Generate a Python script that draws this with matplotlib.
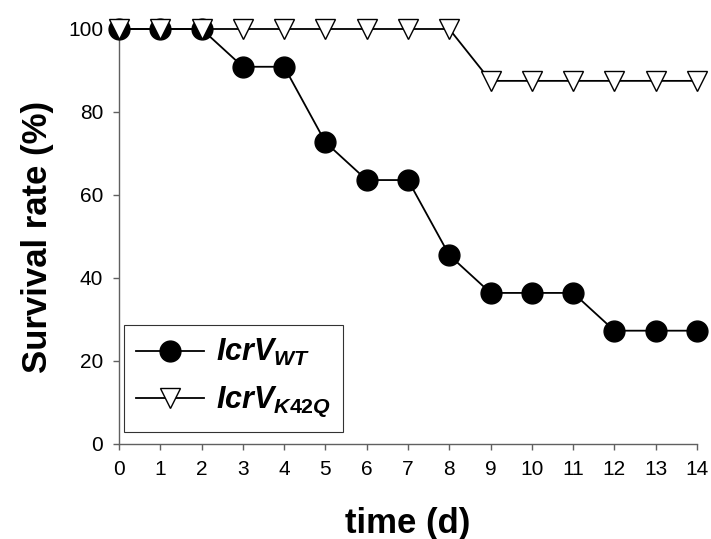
import matplotlib
matplotlib.use("Agg")
import matplotlib.pyplot as plt

plt.rcParams['font.family'] = ['Liberation Sans', 'DejaVu Sans']
plt.rcParams['mathtext.fontset'] = 'custom'
plt.rcParams['mathtext.it'] = 'Liberation Sans:italic:bold'
plt.rcParams['mathtext.rm'] = 'Liberation Sans:bold'

days = list(range(15))
wt = [100, 100, 100, 90.9, 90.9, 72.7, 63.6, 63.6, 45.5, 36.4, 36.4, 36.4, 27.3, 27.3, 27.3]
k42q = [100, 100, 100, 100, 100, 100, 100, 100, 100, 87.5, 87.5, 87.5, 87.5, 87.5, 87.5]
labels = [r'$IcrV_{WT}$', r'$IcrV_{K42Q}$']
xticks = list(range(15))
yticks = [0, 20, 40, 60, 80, 100]

fig = plt.figure(figsize=(7.11, 5.39), dpi=100)
ax = fig.add_axes([0.1674, 0.1763, 0.8129, 0.7699])

ax.plot(days, wt, color='black', lw=1.3, marker='o', ms=15, mfc='black', mec='black',
        label=labels[0], clip_on=False, zorder=3)
ax.plot(days, k42q, color='black', lw=1.3, marker='v', ms=15, mfc='white', mec='black',
        mew=1.0, label=labels[1], clip_on=False, zorder=4)

ax.set_xlim(0, 14)
ax.set_ylim(0, 100)
ax.set_xticks(xticks)
ax.set_yticks(yticks)
for s in ['top', 'right']:
    ax.spines[s].set_visible(False)
for s in ['left', 'bottom']:
    ax.spines[s].set_color('#606060')
    ax.spines[s].set_linewidth(1.0)
ax.tick_params(direction='out', length=4.5, width=1.0, color='#606060', labelsize=15, pad=7)

ax.set_xlabel('time (d)', fontsize=25, fontweight='bold', labelpad=20)
ax.set_ylabel('Survival rate (%)', fontsize=25, fontweight='bold', labelpad=10)

leg = ax.legend(loc='lower left', bbox_to_anchor=(0.009, 0.03), fontsize=22, frameon=True,
                fancybox=False, edgecolor='black', handlelength=2.2, borderpad=0.4,
                labelspacing=0.55, handletextpad=0.4, borderaxespad=0)
leg.get_frame().set_linewidth(0.8)

fig.savefig('out.png', dpi=100)
